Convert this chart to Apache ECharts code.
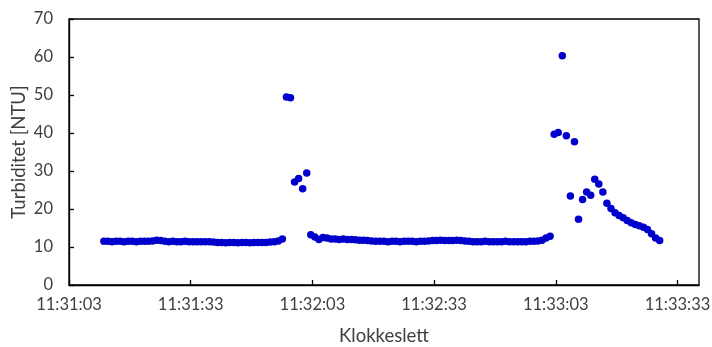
<!DOCTYPE html>
<html>
<head>
<meta charset="utf-8">
<script src="https://cdn.jsdelivr.net/npm/echarts@6/dist/echarts.min.js"></script>
<style>
html,body{margin:0;padding:0;background:#fff;}
#chart{width:712px;height:347px;}
</style>
</head>
<body>
<div id="chart"></div>
<script>
// x-axis start and tick step (tick labels are built from these)
const axisStart = "11:31:03";
const axisEnd = "11:33:38.3";
const tickStepSeconds = 30;

// measurement time stamps
const times = [
"11:31:11.6","11:31:12.6","11:31:13.6","11:31:14.6","11:31:15.6","11:31:16.6","11:31:17.6","11:31:18.6","11:31:19.6","11:31:20.6",
"11:31:21.6","11:31:22.6","11:31:23.6","11:31:24.6","11:31:25.6","11:31:26.6","11:31:27.6","11:31:28.6","11:31:29.6","11:31:30.6",
"11:31:31.6","11:31:32.6","11:31:33.6","11:31:34.6","11:31:35.6","11:31:36.6","11:31:37.6","11:31:38.6","11:31:39.6","11:31:40.6",
"11:31:41.6","11:31:42.6","11:31:43.6","11:31:44.6","11:31:45.6","11:31:46.6","11:31:47.6","11:31:48.6","11:31:49.6","11:31:50.6",
"11:31:51.6","11:31:52.6","11:31:53.6","11:31:54.6","11:31:55.6","11:31:56.6","11:31:57.6","11:31:58.6","11:31:59.6",
"11:32:00.6","11:32:01.6","11:32:02.6","11:32:03.6","11:32:04.6","11:32:05.6","11:32:06.6","11:32:07.6","11:32:08.6","11:32:09.6",
"11:32:10.6","11:32:11.6","11:32:12.6","11:32:13.6","11:32:14.6","11:32:15.6","11:32:16.6","11:32:17.6","11:32:18.6","11:32:19.6",
"11:32:20.6","11:32:21.6","11:32:22.6","11:32:23.6","11:32:24.6","11:32:25.6","11:32:26.6","11:32:27.6","11:32:28.6","11:32:29.6",
"11:32:30.6","11:32:31.6","11:32:32.6","11:32:33.6","11:32:34.6","11:32:35.6","11:32:36.6","11:32:37.6","11:32:38.6","11:32:39.6",
"11:32:40.6","11:32:41.6","11:32:42.6","11:32:43.6","11:32:44.6","11:32:45.6","11:32:46.6","11:32:47.6","11:32:48.6","11:32:49.6",
"11:32:50.6","11:32:51.6","11:32:52.6","11:32:53.6","11:32:54.6","11:32:55.6","11:32:56.6","11:32:57.6","11:32:58.6","11:32:59.6",
"11:33:00.6","11:33:01.6","11:33:02.6","11:33:03.6","11:33:04.6","11:33:05.6","11:33:06.6","11:33:07.6","11:33:08.6","11:33:09.6",
"11:33:10.6","11:33:11.6","11:33:12.6","11:33:13.6","11:33:14.6","11:33:15.6","11:33:16.6","11:33:17.6","11:33:18.6","11:33:19.6",
"11:33:20.6","11:33:21.6","11:33:22.6","11:33:23.6","11:33:24.6","11:33:25.6","11:33:26.6","11:33:27.6","11:33:28.6"
];

// turbidity [NTU]
const turbidity = [
11.5,11.5,11.4,11.5,11.5,11.4,11.5,11.5,11.4,11.5,11.5,11.5,11.6,
11.8,11.7,11.5,11.4,11.5,11.4,11.4,11.5,11.4,11.4,11.4,11.4,11.4,11.4,11.3,
11.2,11.2,11.1,11.2,11.2,11.1,11.2,11.2,11.1,11.2,11.2,11.2,11.2,11.3,11.4,11.6,12.1,
49.5,49.3,27.1,28.0,25.3,29.5,13.2,12.6,12.0,12.5,12.4,
12.1,12.1,12.0,12.1,12.0,12.0,11.9,11.8,11.8,11.7,11.6,11.5,
11.5,11.5,11.4,11.5,11.5,11.4,11.5,11.5,11.5,11.4,11.5,11.5,11.6,
11.7,11.7,11.8,11.7,11.7,11.7,11.8,11.7,11.6,
11.5,11.4,11.4,11.4,11.5,11.4,11.4,11.4,11.4,11.5,11.4,11.4,11.4,11.4,11.4,11.5,11.5,11.6,
11.8,12.4,12.8,
39.7,40.1,60.3,39.3,23.4,37.7,17.3,22.5,24.5,23.6,27.8,26.6,24.5,21.5,20.1,19.0,18.3,17.7,17.0,16.4,15.9,15.6,15.2,14.6,13.5,12.4,11.7
];

const yMin = 0, yMax = 70, yStep = 10;
const xTitle = "Klokkeslett";
const yTitle = "Turbiditet [NTU]";

function toSec(t){
  const p = t.split(":");
  return (+p[0])*3600 + (+p[1])*60 + parseFloat(p[2]);
}
function fmt(s){
  s = Math.round(s);
  const h = Math.floor(s/3600), m = Math.floor((s%3600)/60), ss = s%60;
  const pad = n => (n<10?"0":"")+n;
  return h + ":" + pad(m) + ":" + pad(ss);
}
const base = toSec(axisStart);
const data = times.map((t,i)=>[toSec(t)-base, turbidity[i]]);

const font = "Lato, 'Open Sans', sans-serif";
const txt = "#404040";
const chart = echarts.init(document.getElementById('chart'), null, {renderer:'canvas'});
chart.setOption({
  animation:false,
  backgroundColor:'#fff',
  grid:{left:69, right:13, top:19, bottom:62, show:true, borderColor:'#000', borderWidth:1.3,
    backgroundColor:'transparent', containLabel:false, outerBoundsMode:'none'},
  xAxis:{
    type:'value', min:0, max:toSec(axisEnd)-base, interval:tickStepSeconds,
    axisLine:{show:true, onZero:false, lineStyle:{color:'#000', width:1.3}},
    axisTick:{show:true, inside:true, length:5, lineStyle:{color:'#000', width:1.3}},
    axisLabel:{show:true, margin:11, fontSize:16.5, fontFamily:font, color:txt, showMaxLabel:false,
      formatter:v=>fmt(base+v)},
    splitLine:{show:false},
    name:xTitle, nameLocation:'middle', nameGap:42, nameMoveOverlap:false,
    nameTextStyle:{fontSize:18.5, fontFamily:font, color:txt}
  },
  yAxis:{
    type:'value', min:yMin, max:yMax, interval:yStep,
    axisLine:{show:true, lineStyle:{color:'#000', width:1.3}},
    axisTick:{show:true, inside:true, length:5, lineStyle:{color:'#000', width:1.3}},
    axisLabel:{margin:16, fontSize:16.5, fontFamily:font, color:txt},
    splitLine:{show:false},
    name:yTitle, nameLocation:'middle', nameGap:40, nameRotate:90, nameMoveOverlap:false,
    nameTextStyle:{fontSize:18.5, fontFamily:font, color:txt}
  },
  series:[{
    type:'scatter', data:data, symbol:'circle', symbolSize:7.5,
    itemStyle:{color:'#0000cc', opacity:1}
  }]
});
</script>
</body>
</html>
